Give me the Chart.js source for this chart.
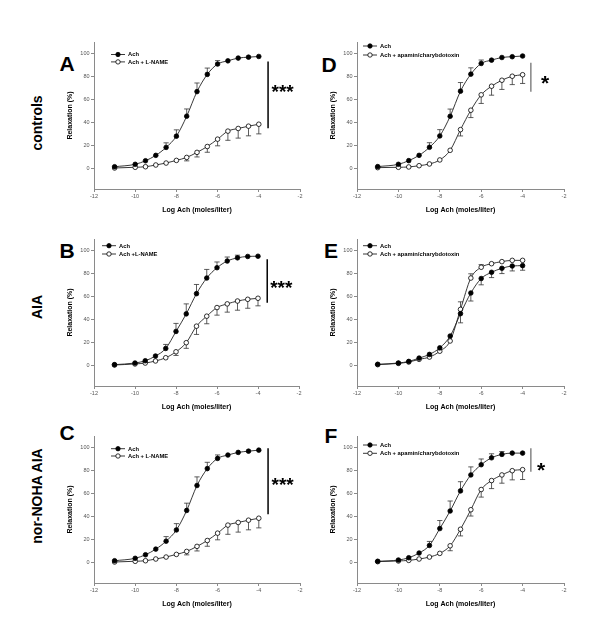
<!DOCTYPE html>
<html><head><meta charset="utf-8">
<script src="https://cdn.jsdelivr.net/npm/chart.js@4/dist/chart.umd.min.js"></script>
<style>
html,body{margin:0;padding:0;background:#fff;}
body{width:600px;height:636px;position:relative;overflow:hidden;font-family:"Liberation Sans",Arial,sans-serif;}
canvas{position:absolute;}
.letter{position:absolute;font-weight:bold;font-size:21px;line-height:1;transform:translate(-50%,-50%);color:#000;}
.row{position:absolute;font-weight:bold;font-size:14px;line-height:1;white-space:nowrap;color:#000;transform:translate(-50%,-50%) rotate(-90deg);}
</style></head><body>
<div class="row" style="left:37px;top:123px">controls</div>
<div class="row" style="left:37px;top:307px">AIA</div>
<div class="row" style="left:37px;top:496px">nor-NOHA AIA</div>
<div class="letter" style="left:67px;top:63px">A</div>
<div class="letter" style="left:329px;top:64px">D</div>
<div class="letter" style="left:67px;top:250px">B</div>
<div class="letter" style="left:331px;top:250px">E</div>
<div class="letter" style="left:67px;top:432px">C</div>
<div class="letter" style="left:331px;top:435px">F</div>
<canvas id="cA"></canvas><canvas id="cB"></canvas><canvas id="cC"></canvas>
<canvas id="cD"></canvas><canvas id="cE"></canvas><canvas id="cF"></canvas>
<script>
// ---- data ----
const logAch = [-11,-10,-9.5,-9,-8.5,-8,-7.5,-7,-6.5,-6,-5.5,-5,-4.5,-4];
const xTicks = [-12,-10,-8,-6,-4,-2];
const yTicks = [0,20,40,60,80,100];
const xTitle = 'Log Ach (moles/liter)';
const yTitle = 'Relaxation (%)';

// A: controls, L-NAME
const aAch      = [1.4,3.5,6.6,11.3,18.2,28,45.4,66.8,81.8,90.8,93.6,96,96.8,97.4];
const aAchErr   = [0.5,1,1.5,2,4,5.5,6.3,7.5,5.5,3,2,1.5,1,0.5];
const aLname    = [0.3,0.9,1.4,2.9,4.6,6.9,9.5,13.9,19,25.4,32.4,34.7,36.7,38.4];
const aLnameErr = [0.3,0.5,0.5,0.8,1,1.7,3,4,5,5.8,8,8.4,8.4,8.4];
// B: AIA, L-NAME
const bAch      = [0.6,2,4,8.1,14.7,29.5,44.8,62.4,76,85,90.8,93.6,94.8,95];
const bAchErr   = [0.3,0.5,1,1.7,3.5,7,8.7,8,7.5,5,3.5,2.3,2,2];
const bLname    = [0.3,1.2,2,3.8,6.6,11.8,19.7,34.1,42.8,50.3,53.5,56,57.5,58.4];
const bLnameErr = [0.2,0.5,0.5,0.8,1.7,3.2,4.9,7.2,6.6,6.6,7.2,8,7.8,6.6];
// C: nor-NOHA AIA, L-NAME
const cAch      = [1.4,3.5,6.6,11.5,18.4,28.2,45.2,66.9,81.6,90.5,93.4,95.7,96.8,97.7];
const cAchErr   = [0.5,1,1.5,2,4,5.5,6.3,7.5,5.5,3,2,1.5,1,0.5];
const cLname    = [0.3,0.9,1.4,2.9,4.6,6.9,9.5,13.9,19,25.4,32.4,34.7,36.7,38.4];
const cLnameErr = [0.3,0.5,0.5,0.8,1,1.7,3,4,5,5.8,8,8.4,8.4,8.4];
// D: controls, apamin/charybdotoxin
const dAch      = [1.5,3.5,6.7,11.3,18.3,28.2,45.3,67.2,82,91.3,94.2,96.5,97.2,97.8];
const dAchErr   = [0.5,1,1.5,2,4,5.5,6.3,7.5,5.5,3,2,1.5,1,0.5];
const dApa      = [0.6,0.9,1.2,2.3,3.8,7.3,15.7,33.7,50.6,64,71.5,76.7,80.2,81.5];
const dApaErr   = [0.3,0.3,0.5,0.5,0.8,1,1.5,5.5,6.4,7.5,7.8,8,7.3,7.6];
// E: AIA, apamin/charybdotoxin
const eAch      = [0.9,2,3.4,6.3,9.5,15.2,25.5,45,63,75.6,81,84.5,86.5,86.8];
const eAchErr   = [0.3,0.5,0.5,0.8,1,1.5,2,8,7,5.5,4.6,4.6,4.3,4];
const eApa      = [0.6,1.7,2.9,5.2,7.2,12.3,21.2,48.7,76,85.4,88.5,90.3,91.4,91.4];
const eApaErr   = [0.3,0.5,0.5,0.8,1,1.5,1.5,6.6,3.7,2.3,2,2,1.7,1.7];
// F: nor-NOHA AIA, apamin/charybdotoxin
const fAch      = [0.9,2,4,8.1,14.7,29.4,44.7,62.2,76.1,85,91,94,95.1,95.1];
const fAchErr   = [0.3,0.5,1,1.7,3.5,7,8.7,8,7,5,3.5,2.5,2,2];
const fApa      = [0.6,1.2,1.7,2.9,4.6,7.8,14.4,28.8,45.8,63.4,71.2,76.1,79.8,80.7];
const fApaErr   = [0.3,0.3,0.5,0.5,0.8,1.5,4.3,5.8,5.5,6.6,7,7.2,8,8.6];

const lblAch = 'Ach';
const lblLname = 'Ach + L-NAME';
const lblLnameB = 'Ach +L-NAME';
const lblApa = 'Ach + apamin/charybdotoxin';

// ---- plugins ----
const FONT = '"Liberation Sans", Arial, sans-serif';
const errPlugin = {
  id: 'errbars',
  beforeDatasetsDraw(chart) {
    const ctx = chart.ctx, ys = chart.scales.y;
    chart.data.datasets.forEach((ds, di) => {
      if (!ds.errors) return;
      const meta = chart.getDatasetMeta(di);
      ctx.save();
      ctx.strokeStyle = '#333'; ctx.lineWidth = 0.8;
      meta.data.forEach((pt, i) => {
        const v = ds.data[i].y, e = ds.errors[i];
        const y1 = ys.getPixelForValue(v + ds.errDir * e);
        if (Math.abs(y1 - pt.y) < 2.5) return;
        ctx.beginPath();
        ctx.moveTo(pt.x, pt.y); ctx.lineTo(pt.x, y1);
        ctx.moveTo(pt.x - 2.6, y1); ctx.lineTo(pt.x + 2.6, y1);
        ctx.stroke();
      });
      ctx.restore();
    });
  }
};
const legendPlugin = {
  id: 'inlegend',
  afterDraw(chart, args, o) {
    if (!o || o.dx === undefined) return;
    const ctx = chart.ctx, a = chart.chartArea;
    ctx.save();
    chart.data.datasets.forEach((ds, i) => {
      const x0 = a.left + o.dx, y = a.top + o.dy + i * o.gap, len = 14;
      ctx.strokeStyle = '#222'; ctx.lineWidth = 0.9;
      ctx.beginPath(); ctx.moveTo(x0, y); ctx.lineTo(x0 + len, y); ctx.stroke();
      ctx.beginPath(); ctx.arc(x0 + len / 2, y, 2.2, 0, Math.PI * 2);
      ctx.fillStyle = ds.pointBackgroundColor; ctx.fill();
      ctx.lineWidth = 0.8; ctx.strokeStyle = '#000'; ctx.stroke();
      ctx.fillStyle = '#000';
      ctx.font = 'bold 5.8px ' + FONT;
      ctx.textBaseline = 'middle'; ctx.textAlign = 'left';
      ctx.fillText(ds.label, x0 + len + 3, y + 0.3);
    });
    ctx.restore();
  }
};
const sigPlugin = {
  id: 'sig',
  afterDraw(chart, args, o) {
    if (!o || o.x === undefined) return;
    const ctx = chart.ctx, xs = chart.scales.x, ys = chart.scales.y;
    const x = xs.getPixelForValue(o.x);
    ctx.save();
    ctx.strokeStyle = o.color; ctx.lineWidth = o.lw;
    ctx.beginPath(); ctx.moveTo(x, ys.getPixelForValue(o.y1)); ctx.lineTo(x, ys.getPixelForValue(o.y2)); ctx.stroke();
    ctx.fillStyle = '#000';
    ctx.font = 'bold ' + o.size + 'px ' + FONT;
    ctx.textAlign = 'left'; ctx.textBaseline = 'alphabetic';
    ctx.fillText(o.text, x + o.dx, ys.getPixelForValue(o.ty) + 0.58 * o.size);
    ctx.restore();
  }
};

function series(label, vals, errs, dir, filled) {
  return {
    label: label,
    data: logAch.map((x, i) => ({x: x, y: vals[i]})),
    errors: errs, errDir: dir,
    borderColor: '#222', borderWidth: 0.9,
    pointRadius: 2.3, pointHoverRadius: 2.3,
    pointBackgroundColor: filled ? '#000' : '#fff',
    pointBorderColor: '#000', pointBorderWidth: 0.8,
    cubicInterpolationMode: 'monotone', fill: false
  };
}

function panel(id, area, datasets, leg, sig) {
  const yW = 28, xH = 25, pl = 2, pr = 8, pt = 8, pb = 2;
  const cv = document.getElementById(id);
  cv.width = pl + yW + area.w + pr;
  cv.height = pt + area.h + xH + pb;
  cv.style.left = (area.x - yW - pl) + 'px';
  cv.style.top = (area.y - pt) + 'px';
  const axisGrid = {display: true, drawOnChartArea: false, drawTicks: true, tickLength: 3, color: '#8a8a8a', lineWidth: 1};
  const tickFont = {family: FONT, size: 5.5};
  new Chart(cv, {
    type: 'line',
    data: {datasets: datasets},
    options: {
      responsive: false, animation: false, devicePixelRatio: 1,
      layout: {padding: {left: pl, right: pr, top: pt, bottom: pb}},
      plugins: {legend: {display: false}, tooltip: {enabled: false}, inlegend: leg, sig: sig || {}},
      scales: {
        x: {
          type: 'linear', min: -12, max: -2,
          afterBuildTicks: s => { s.ticks = xTicks.map(v => ({value: v})); },
          afterFit: s => { s.height = xH; },
          ticks: {font: tickFont, color: '#555', padding: 1.5, maxRotation: 0},
          grid: axisGrid, border: {display: true, color: '#8a8a8a', width: 1},
          title: {display: true, text: xTitle, color: '#000', font: {family: FONT, size: 7, weight: 'bold'}, padding: 0}
        },
        y: {
          type: 'linear', min: -18, max: 110,
          afterBuildTicks: s => { s.ticks = yTicks.map(v => ({value: v})); },
          afterFit: s => { s.width = yW; },
          ticks: {font: tickFont, color: '#555', padding: 1.5},
          grid: axisGrid, border: {display: true, color: '#8a8a8a', width: 1},
          title: {display: true, text: yTitle, color: '#000', font: {family: FONT, size: 7, weight: 'bold'}, padding: 0}
        }
      }
    },
    plugins: [errPlugin, legendPlugin, sigPlugin]
  });
}

panel('cA', {x: 94, y: 42, w: 206, h: 147},
  [series(lblAch, aAch, aAchErr, 1, true), series(lblLname, aLname, aLnameErr, -1, false)],
  {dx: 17, dy: 12.5, gap: 7.4},
  {x: -3.55, y1: 93, y2: 35, text: '***', dx: 3.5, ty: 70.7, size: 19, color: '#000', lw: 1.5});
panel('cB', {x: 94, y: 239, w: 205, h: 147},
  [series(lblAch, bAch, bAchErr, 1, true), series(lblLnameB, bLname, bLnameErr, -1, false)],
  {dx: 8, dy: 6.7, gap: 8.3},
  {x: -3.55, y1: 92.3, y2: 54.5, text: '***', dx: 3, ty: 71.7, size: 19, color: '#000', lw: 1.5});
panel('cC', {x: 94, y: 436, w: 206, h: 147},
  [series(lblAch, cAch, cAchErr, 1, true), series(lblLname, cLname, cLnameErr, -1, false)],
  {dx: 17, dy: 12.7, gap: 7.3},
  {x: -3.55, y1: 99.3, y2: 41.8, text: '***', dx: 3.5, ty: 71.7, size: 19, color: '#000', lw: 1.5});
panel('cD', {x: 357, y: 42, w: 207, h: 147},
  [series(lblAch, dAch, dAchErr, 1, true), series(lblApa, dApa, dApaErr, -1, false)],
  {dx: 6, dy: 4, gap: 9},
  {x: -3.6, y1: 92, y2: 66.7, text: '*', dx: 10, ty: 78.7, size: 21, color: '#666', lw: 1.2});
panel('cE', {x: 357, y: 239, w: 207, h: 147},
  [series(lblAch, eAch, eAchErr, -1, true), series(lblApa, eApa, eApaErr, 1, false)],
  {dx: 6, dy: 6.7, gap: 8.3}, null);
panel('cF', {x: 357, y: 436, w: 207, h: 147},
  [series(lblAch, fAch, fAchErr, 1, true), series(lblApa, fApa, fApaErr, -1, false)],
  {dx: 6, dy: 9, gap: 8.3},
  {x: -3.6, y1: 99.3, y2: 78.9, text: '*', dx: 6, ty: 84.8, size: 21, color: '#666', lw: 1.2});
</script>
</body></html>
